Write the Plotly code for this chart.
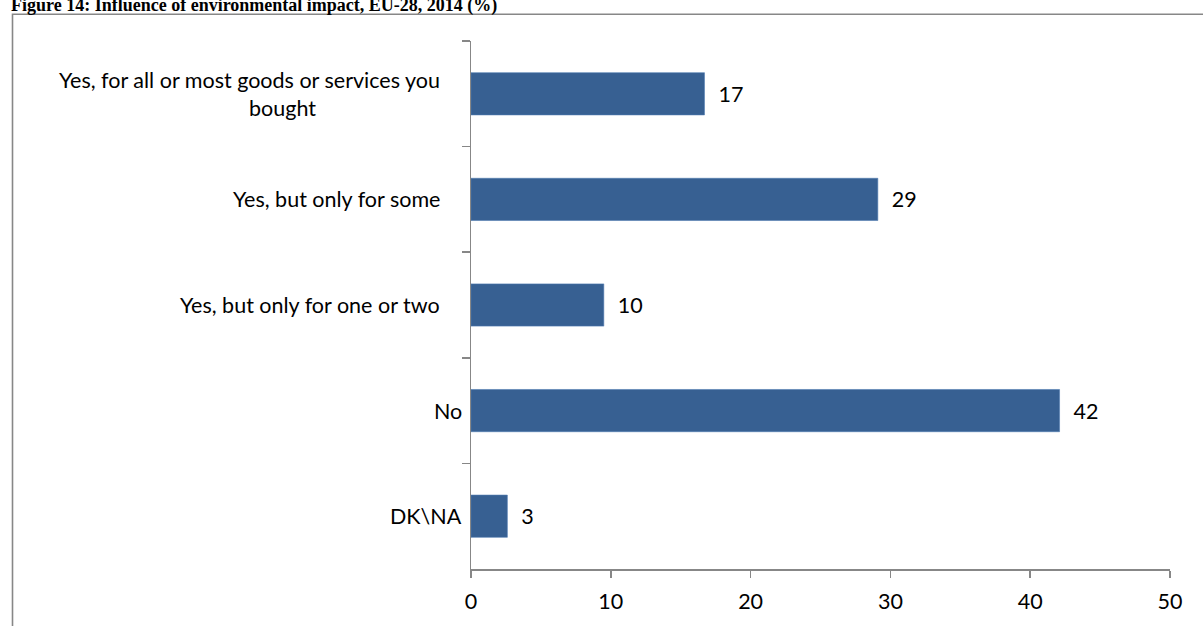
import plotly.graph_objects as go

# ---- data ----
categories = [
    "Yes, for all or most goods or services you bought",
    "Yes, but only for some",
    "Yes, but only for one or two",
    "No",
    "DK\\NA",
]
# label text as shown (with line break / trailing spaces as in the original)
PAD = "\u00a0" * 4
category_labels = [
    "Yes, for all or most goods or services you" + PAD + "<br>" + "\u00a0" * 8 + "bought",
    "Yes, but only for some" + PAD,
    "Yes, but only for one or two" + PAD,
    "No",
    "DK\\NA",
]
values = [16.7, 29.1, 9.5, 42.1, 2.6]
value_labels = ["17", "29", "10", "42", "3"]
x_ticks = [0, 10, 20, 30, 40, 50]
title_text = "Figure 14: Influence of environmental impact, EU-28, 2014 (%)"

W, H = 1203, 626
ML, MR, MT, MB = 471, 33, 41, 52
PW, PH = W - ML - MR, H - MT - MB

def px_x(p):
    return (p - ML) / PW

def px_y(p):
    return 1 + (MT - p) / PH

FONT = "Lato"
FS = 21.5
AXIS_COLOR = "#878787"
BAR_COLOR = "#376092"

fig = go.Figure()
fig.add_trace(go.Bar(
    x=values,
    y=categories,
    orientation="h",
    marker=dict(color=BAR_COLOR, line=dict(color="#4f7bb0", width=0.6)),
    text=["\u00a0\u00a0" + t for t in value_labels],
    textposition="outside",
    textfont=dict(family=FONT, size=FS, color="#000000"),
    cliponaxis=False,
    hoverinfo="skip",
))

annotations = []
for cat, lab in zip(categories, category_labels):
    annotations.append(dict(
        x=px_x(464), xref="paper", xanchor="right",
        y=cat, yref="y", yanchor="middle",
        text=lab, align="center", showarrow=False,
        font=dict(family=FONT, size=FS, color="#000000"),
    ))
annotations.append(dict(
    x=px_x(9), xref="paper", xanchor="left",
    y=px_y(18), yref="paper", yanchor="bottom",
    text="<b>" + title_text + "</b>", showarrow=False,
    font=dict(family="Liberation Serif", size=18, color="#000000"),
))

fig.update_layout(
    width=W, height=H,
    margin=dict(l=ML, r=MR, t=MT, b=MB, pad=0),
    paper_bgcolor="white", plot_bgcolor="white",
    showlegend=False,
    bargap=0.6,
    annotations=annotations,
    shapes=[dict(
        type="rect", xref="paper", yref="paper",
        x0=px_x(12.5), x1=px_x(1215), y0=px_y(640), y1=px_y(14),
        line=dict(color=AXIS_COLOR, width=1.6), fillcolor="rgba(0,0,0,0)",
        layer="below",
    )],
    xaxis=dict(
        range=[0, 50], tickvals=x_ticks, ticktext=[str(v) for v in x_ticks],
        showgrid=False, zeroline=False,
        showline=True, linecolor=AXIS_COLOR, linewidth=1.5,
        ticks="outside", ticklen=7, tickwidth=1.5, tickcolor=AXIS_COLOR,
        tickfont=dict(family=FONT, size=FS, color="#000000"),
        ticklabelstandoff=6,
    ),
    yaxis=dict(
        type="category", autorange="reversed",
        showgrid=False, zeroline=False,
        showline=True, linecolor=AXIS_COLOR, linewidth=1.5,
        ticks="outside", ticklen=8, tickwidth=1.5, tickcolor=AXIS_COLOR,
        tickson="boundaries", showticklabels=False,
    ),
)

fig.write_html(
    "out.html",
    config={"displayModeBar": False, "staticPlot": True},
    post_script="document.body.style.margin='0px';document.body.style.overflow='hidden';",
)
